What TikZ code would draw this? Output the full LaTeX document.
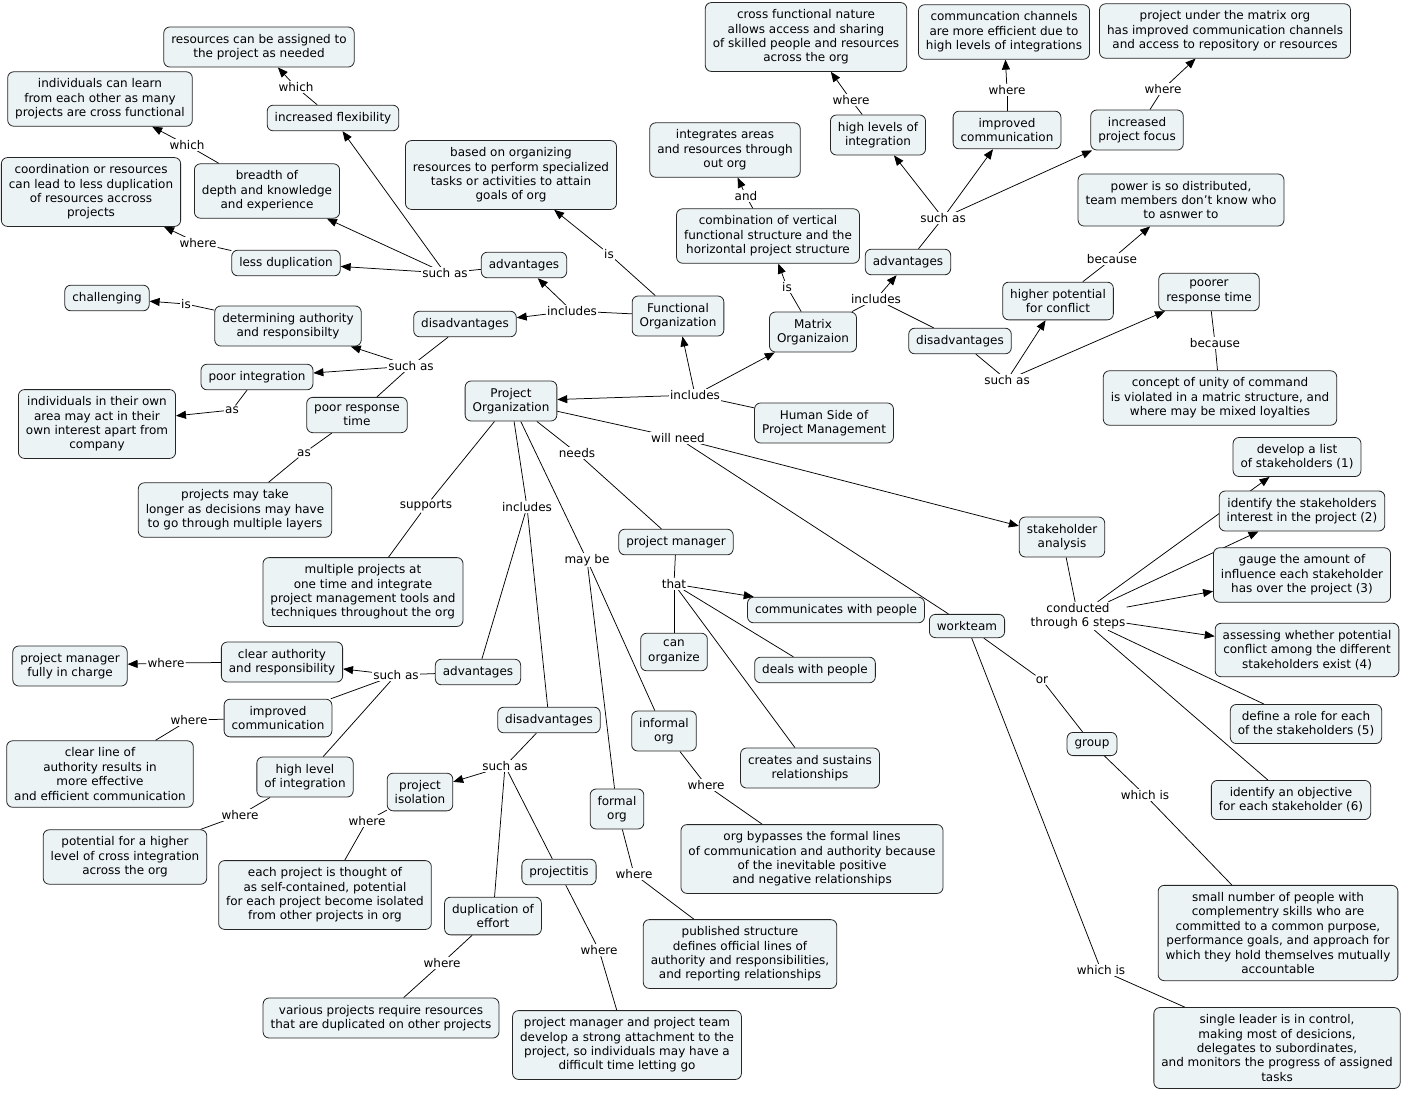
\documentclass[tikz,border=0pt]{standalone}
\usepackage{fontspec}
\setmainfont{DejaVu Sans}
\usetikzlibrary{arrows.meta}
\pgfdeclarelayer{bg}
\pgfsetlayers{bg,main}
\definecolor{boxfill}{RGB}{236,243,245}
\tikzset{
  concept/.style={draw=black!85, fill=boxfill, rounded corners=6pt, align=center,
    inner xsep=7.5pt, inner ysep=7pt, line width=0.8pt, font=\fontsize{12}{14.4}\selectfont},
  lnk/.style={fill=white, inner sep=1pt, align=center, font=\fontsize{12}{14.4}\selectfont},
  con/.style={draw=black, line width=0.75pt},
  arr/.style={con, -{Triangle[length=10pt,width=8pt]}},
}
\begin{document}
\begin{tikzpicture}[x=1pt,y=-1pt]
\useasboundingbox (0,0) rectangle (1404,1093);
% ---------- concepts ----------
\node[concept] (res) at (259,47) {resources can be assigned to\\the project as needed};
\node[concept] (indiv) at (100,99) {individuals can learn\\from each other as many\\projects are cross functional};
\node[concept] (flex) at (333,118) {increased flexibility};
\node[concept] (coord) at (91,192) {coordination or resources\\can lead to less duplication\\of resources accross\\projects};
\node[concept] (breadth) at (267,191) {breadth of\\depth and knowledge\\and experience};
\node[concept] (lessdup) at (286,263) {less duplication};
\node[concept] (based) at (511,175) {based on organizing\\resources to perform specialized\\tasks or activities to attain\\goals of org};
\node[concept] (fadv) at (524,265) {advantages};
\node[concept] (chall) at (107,298) {challenging};
\node[concept] (determ) at (288,326) {determining authority\\and responsibilty};
\node[concept] (fdis) at (465,324) {disadvantages};
\node[concept] (func) at (678,316) {Functional\\Organization};
\node[concept] (poorint) at (257,377) {poor integration};
\node[concept] (poorresp) at (357,415) {poor response\\time};
\node[concept] (indown) at (97,424) {individuals in their own\\area may act in their\\own interest apart from\\company};
\node[concept] (po) at (511,401) {Project\\Organization};
\node[concept] (longer) at (235,510) {projects may take\\longer as decisions may have\\to go through multiple layers};
\node[concept] (multi) at (363,592) {multiple projects at\\one time and integrate\\project management tools and\\techniques throughout the org};
\node[concept] (cross) at (806,37) {cross functional nature\\allows access and sharing\\of skilled people and resources\\across the org};
\node[concept] (commch) at (1004,32) {communcation channels\\are more efficient due to\\high levels of integrations};
\node[concept] (projunder) at (1225,31) {project under the matrix org\\has improved communication channels\\and access to repository or resources};
\node[concept] (integ) at (725,150) {integrates areas\\and resources through\\out org};
\node[concept] (highlev) at (878,135) {high levels of\\integration};
\node[concept] (mimpcomm) at (1007,130) {improved\\communication};
\node[concept] (incfocus) at (1137,130) {increased\\project focus};
\node[concept] (combo) at (768,236) {combination of vertical\\functional structure and the\\horizontal project structure};
\node[concept] (power) at (1181,200) {power is so distributed,\\team members don't know who\\to asnwer to};
\node[concept] (madv) at (908,262) {advantages};
\node[concept] (matrix) at (813,332) {Matrix\\Organizaion};
\node[concept] (higherpot) at (1058,301) {higher potential\\for conflict};
\node[concept] (poorer) at (1209,292) {poorer\\response time};
\node[concept] (mdis) at (960,341) {disadvantages};
\node[concept] (human) at (824,423) {Human Side of\\Project Management};
\node[concept] (unity) at (1220,398) {concept of unity of command\\is violated in a matric structure, and\\where may be mixed loyalties};
\node[concept] (s1) at (1297,457) {develop a list\\of stakeholders (1)};
\node[concept] (s2) at (1302,511) {identify the stakeholders\\interest in the project (2)};
\node[concept] (stake) at (1062,537) {stakeholder\\analysis};
\node[concept] (s3) at (1302,575) {gauge the amount of\\influence each stakeholder\\has over the project (3)};
\node[concept] (s4) at (1307,650) {assessing whether potential\\conflict among the different\\stakeholders exist (4)};
\node[concept] (workteam) at (967,626) {workteam};
\node[concept] (s5) at (1306,724) {define a role for each\\of the stakeholders (5)};
\node[concept] (group) at (1092,744) {group};
\node[concept] (s6) at (1291,800) {identify an objective\\for each stakeholder (6)};
\node[concept] (small) at (1278,933) {small number of people with\\complementry skills who are\\committed to a common purpose,\\performance goals, and approach for\\which they hold themselves mutually\\accountable};
\node[concept] (single) at (1277,1048) {single leader is in control,\\making most of desicions,\\delegates to subordinates,\\and monitors the progress of assigned\\tasks};
\node[concept] (pm) at (676,542) {project manager};
\node[concept] (commpeople) at (836,610) {communicates with people};
\node[concept] (canorg) at (674,652) {can\\organize};
\node[concept] (deals) at (815,670) {deals with people};
\node[concept] (clearauth) at (282,662) {clear authority\\and responsibility};
\node[concept] (pmfull) at (70,666) {project manager\\fully in charge};
\node[concept] (padv) at (478,672) {advantages};
\node[concept] (pimpcomm) at (278,718) {improved\\communication};
\node[concept] (pdis) at (549,720) {disadvantages};
\node[concept] (informal) at (664,731) {informal\\org};
\node[concept] (creates) at (810,768) {creates and sustains\\relationships};
\node[concept] (clearline) at (100,774) {clear line of\\authority results in\\more effective\\and efficient communication};
\node[concept] (highint) at (305,777) {high level\\of integration};
\node[concept] (isolation) at (420,792) {project\\isolation};
\node[concept] (formal) at (617,809) {formal\\org};
\node[concept] (bypass) at (812,859) {org bypasses the formal lines\\of communication and authority because\\of the inevitable positive\\and negative relationships};
\node[concept] (potential) at (125,857) {potential for a higher\\level of cross integration\\across the org};
\node[concept] (eachproj) at (325,895) {each project is thought of\\as self-contained, potential\\for each project become isolated\\from other projects in org};
\node[concept] (projectitis) at (559,872) {projectitis};
\node[concept] (dupeff) at (493,916) {duplication of\\effort};
\node[concept] (published) at (740,954) {published structure\\defines official lines of\\authority and responsibilities,\\and reporting relationships};
\node[concept] (various) at (381,1018) {various projects require resources\\that are duplicated on other projects};
\node[concept] (attach) at (627,1045) {project manager and project team\\develop a strong attachment to the\\project, so individuals may have a\\difficult time letting go};
% ---------- linking phrases ----------
\node[lnk] (l1) at (296,87) {which};
\node[lnk] (l2) at (187,145) {which};
\node[lnk] (l3) at (198,243) {where};
\node[lnk] (l4) at (445,273) {such as};
\node[lnk] (l5) at (186,304) {is};
\node[lnk] (l6) at (572,311) {includes};
\node[lnk] (l7) at (609,254) {is};
\node[lnk] (l8) at (411,366) {such as};
\node[lnk] (l9) at (232,410) {as};
\node[lnk] (l10) at (304,453) {as};
\node[lnk] (l11) at (695,395) {includes};
\node[lnk] (l12) at (678,438) {will need};
\node[lnk] (l13) at (577,453) {needs};
\node[lnk] (l14) at (426,506) {supports};
\node[lnk] (l15) at (527,507) {includes};
\node[lnk] (l16) at (587,560) {may be};
\node[lnk] (l17) at (674,584) {that};
\node[lnk] (l18) at (166,663) {where};
\node[lnk] (l19) at (396,675) {such as};
\node[lnk] (l20) at (189,720) {where};
\node[lnk] (l21) at (240,815) {where};
\node[lnk] (l22) at (505,766) {such as};
\node[lnk] (l23) at (367,821) {where};
\node[lnk] (l24) at (706,785) {where};
\node[lnk] (l25) at (634,874) {where};
\node[lnk] (l26) at (442,963) {where};
\node[lnk] (l27) at (599,950) {where};
\node[lnk] (l28) at (851,100) {where};
\node[lnk] (l29) at (1007,90) {where};
\node[lnk] (l30) at (1163,89) {where};
\node[lnk] (l31) at (746,196) {and};
\node[lnk] (l32) at (943,218) {such as};
\node[lnk] (l33) at (787,287) {is};
\node[lnk] (l34) at (876,299) {includes};
\node[lnk] (l35) at (1112,259) {because};
\node[lnk] (l36) at (1215,343) {because};
\node[lnk] (l37) at (1007,380) {such as};
\node[lnk] (l38) at (1078,616) {conducted\\through 6 steps};
\node[lnk] (l39) at (1042,680) {or};
\node[lnk] (l40) at (1145,795) {which is};
\node[lnk] (l41) at (1101,970) {which is};
% ---------- connectors ----------
\begin{pgfonlayer}{bg}
\draw[con] (flex) -- (l1); \draw[arr] (l1) -- (res);
\draw[con] (breadth) -- (l2); \draw[arr] (l2) -- (indiv);
\draw[con] (lessdup) -- (l3); \draw[arr] (l3) -- (coord);
\draw[con] (fadv) -- (l4);
\draw[arr] (l4) -- (flex); \draw[arr] (l4) -- (breadth); \draw[arr] (l4) -- (lessdup);
\draw[con] (determ) -- (l5); \draw[arr] (l5) -- (chall);
\draw[con] (func) -- (l6); \draw[arr] (l6) -- (fadv); \draw[arr] (l6) -- (fdis);
\draw[con] (func) -- (l7); \draw[arr] (l7) -- (based);
\draw[con] (fdis) -- (l8);
\draw[arr] (l8) -- (determ); \draw[arr] (l8) -- (poorint); \draw[con] (l8) -- (poorresp);
\draw[con] (poorint) -- (l9); \draw[arr] (l9) -- (indown);
\draw[con] (poorresp) -- (l10); \draw[con] (l10) -- (longer);
\draw[con] (human) -- (l11);
\draw[arr] (l11) -- (po); \draw[arr] (l11) -- (func); \draw[arr] (l11) -- (matrix);
\draw[con] (po) -- (l12); \draw[arr] (l12) -- (stake); \draw[con] (l12) -- (workteam);
\draw[con] (po) -- (l13); \draw[con] (l13) -- (pm);
\draw[con] (po) -- (l14); \draw[con] (l14) -- (multi);
\draw[con] (po) -- (l15); \draw[con] (l15) -- (padv); \draw[con] (l15) -- (pdis);
\draw[con] (po) -- (l16); \draw[con] (l16) -- (informal); \draw[con] (l16) -- (formal);
\draw[con] (pm) -- (l17);
\draw[arr] (l17) -- (commpeople); \draw[con] (l17) -- (canorg);
\draw[con] (l17) -- (deals); \draw[con] (l17) -- (creates);
\draw[con] (clearauth) -- (l18); \draw[arr] (l18) -- (pmfull);
\draw[con] (padv) -- (l19);
\draw[arr] (l19) -- (clearauth); \draw[con] (l19) -- (pimpcomm); \draw[con] (l19) -- (highint);
\draw[con] (pimpcomm) -- (l20); \draw[con] (l20) -- (clearline);
\draw[con] (highint) -- (l21); \draw[con] (l21) -- (potential);
\draw[con] (pdis) -- (l22);
\draw[arr] (l22) -- (isolation); \draw[con] (l22) -- (dupeff); \draw[con] (l22) -- (projectitis);
\draw[con] (isolation) -- (l23); \draw[con] (l23) -- (eachproj);
\draw[con] (informal) -- (l24); \draw[con] (l24) -- (bypass);
\draw[con] (formal) -- (l25); \draw[con] (l25) -- (published);
\draw[con] (dupeff) -- (l26); \draw[con] (l26) -- (various);
\draw[con] (projectitis) -- (l27); \draw[con] (l27) -- (attach);
\draw[con] (highlev) -- (l28); \draw[arr] (l28) -- (cross);
\draw[con] (mimpcomm) -- (l29); \draw[arr] (l29) -- (commch);
\draw[con] (incfocus) -- (l30); \draw[arr] (l30) -- (projunder);
\draw[con] (combo) -- (l31); \draw[arr] (l31) -- (integ);
\draw[con] (madv) -- (l32);
\draw[arr] (l32) -- (highlev); \draw[arr] (l32) -- (mimpcomm); \draw[arr] (l32) -- (incfocus);
\draw[con] (matrix) -- (l33); \draw[arr] (l33) -- (combo);
\draw[con] (matrix) -- (l34); \draw[arr] (l34) -- (madv); \draw[con] (l34) -- (mdis);
\draw[con] (higherpot) -- (l35); \draw[arr] (l35) -- (power);
\draw[con] (poorer) -- (l36); \draw[con] (l36) -- (unity);
\draw[con] (mdis) -- (l37); \draw[arr] (l37) -- (higherpot); \draw[arr] (l37) -- (poorer);
\draw[con] (stake) -- (l38);
\draw[arr] (l38) -- (s1); \draw[arr] (l38) -- (s2); \draw[arr] (l38) -- (s3); \draw[arr] (l38) -- (s4);
\draw[con] (l38) -- (s5); \draw[con] (l38) -- (s6);
\draw[con] (workteam) -- (l39); \draw[con] (l39) -- (group);
\draw[con] (group) -- (l40); \draw[con] (l40) -- (small);
\draw[con] (workteam) -- (l41); \draw[con] (l41) -- (single);
\end{pgfonlayer}
\end{tikzpicture}
\end{document}
